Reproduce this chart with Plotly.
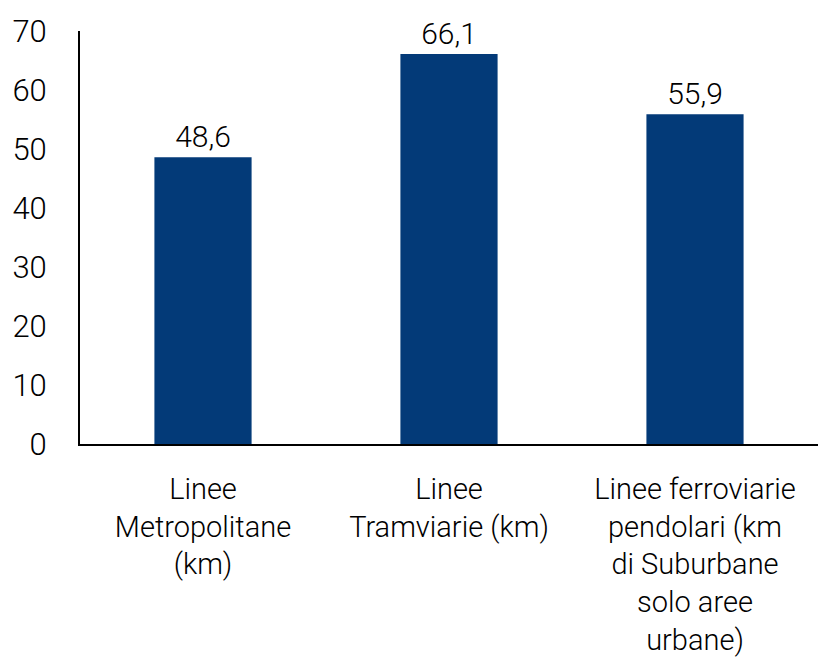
import plotly.graph_objects as go

categories = [
    "Linee<br>Metropolitane<br>(km)",
    "Linee<br>Tramviarie (km)",
    "Linee ferroviarie<br>pendolari (km<br>di Suburbane<br>solo aree<br>urbane)",
]
values = [48.6, 66.1, 55.9]
y_ticks = [0, 10, 20, 30, 40, 50, 60, 70]

FONT = "Roboto, Century Gothic, Noto Sans, sans-serif"

fig = go.Figure(
    go.Bar(
        x=categories,
        y=values,
        marker=dict(color="#033A78", line=dict(width=0)),
        texttemplate="%{y:.1f}",
        textposition="outside",
        textfont=dict(size=30, color="#000000", family=FONT, weight=300),
        cliponaxis=False,
        width=0.395,
    )
)

fig.update_layout(
    width=818,
    height=660,
    margin=dict(l=80, r=0, t=31, b=216),
    plot_bgcolor="white",
    paper_bgcolor="white",
    separators=",.",
    showlegend=False,
    font=dict(family=FONT, size=28, color="#000000", weight=300),
)

fig.update_yaxes(
    range=[0, 70],
    tickvals=y_ticks,
    showgrid=False,
    zeroline=False,
    showline=True,
    linecolor="#000000",
    linewidth=2,
    ticks="",
    ticklabelstandoff=25,
    tickfont=dict(size=31, family=FONT, weight=300),
)
fig.update_xaxes(
    showgrid=False,
    showline=True,
    linecolor="#000000",
    linewidth=2,
    ticks="",
    ticklabelstandoff=18,
    tickfont=dict(size=29, family=FONT, weight=300),
)

fig.write_html("out.html")
